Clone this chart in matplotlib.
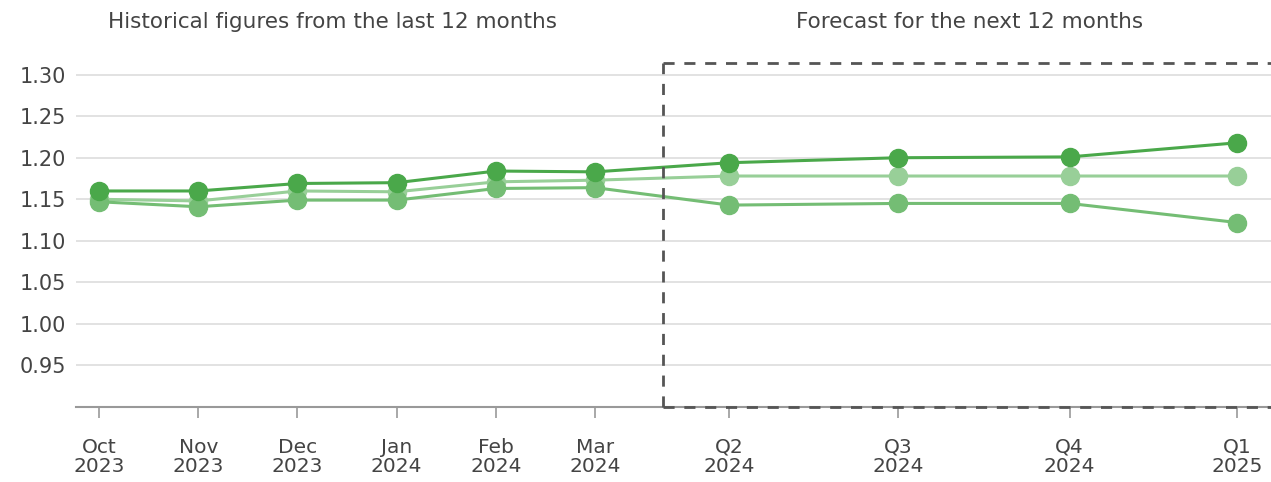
import matplotlib
matplotlib.use("Agg")
import matplotlib.pyplot as plt
from matplotlib.lines import Line2D

# ---- data ----
labels = ["Oct\n2023", "Nov\n2023", "Dec\n2023", "Jan\n2024", "Feb\n2024", "Mar\n2024",
          "Q2\n2024", "Q3\n2024", "Q4\n2024", "Q1\n2025"]
series_high = [1.160, 1.160, 1.169, 1.170, 1.184, 1.183, 1.194, 1.200, 1.201, 1.218]
series_mid  = [1.150, 1.148, 1.160, 1.159, 1.171, 1.173, 1.178, 1.178, 1.178, 1.178]
series_low  = [1.147, 1.141, 1.149, 1.149, 1.163, 1.164, 1.143, 1.145, 1.145, 1.122]
yticks = [0.95, 1.00, 1.05, 1.10, 1.15, 1.20, 1.25, 1.30]
title_hist = "Historical figures from the last 12 months"
title_fc = "Forecast for the next 12 months"

# ---- layout ----
xpos = [0, 1, 2, 3, 4, 5, 6.35, 8.05, 9.78, 11.47]
split_x = 5.685

plt.rcParams['font.family'] = ['DejaVu Sans']
fig = plt.figure(figsize=(12.71, 4.82), dpi=100)
ax = fig.add_axes([76/1271, 1-407/482, 1-76/1271, (407-62.6)/482])
ax.set_xlim(-0.232, 11.81)
ax.set_ylim(0.90, 1.3145)

c_high = "#4aa84a"
c_mid = "#98cf98"
c_low = "#74bd74"

for vals, col, z in [(series_mid, c_mid, 3), (series_low, c_low, 4), (series_high, c_high, 5)]:
    ax.plot(xpos, vals, color=col, lw=2.2, marker='o', ms=13, mec=col, mfc=col, zorder=z, clip_on=False)

ax.set_yticks(yticks)
ax.set_yticklabels([f"{v:.2f}" for v in yticks])
ax.set_xticks(xpos)
ax.set_xticklabels(labels)
ax.grid(axis='y', color='#dddddd', lw=1.2)
ax.set_axisbelow(True)
for s in ['left', 'top', 'right']:
    ax.spines[s].set_visible(False)
ax.spines['bottom'].set_color('#999999')
ax.spines['bottom'].set_linewidth(1.5)
ax.tick_params(axis='y', length=0, pad=7, labelsize=15, labelcolor='#444444')
ax.tick_params(axis='x', length=8, width=1.2, color='#999999', pad=14, labelsize=14.5, labelcolor='#444444')
for t in ax.get_xticklabels():
    t.set_linespacing(1.05)

# dashed forecast box
dash = dict(color='#555555', lw=2, ls=(0, (4, 3.5)), clip_on=False, zorder=6)
ax.add_line(Line2D([split_x, split_x], [0.90, 1.3145], **dash))
ax.add_line(Line2D([split_x, 12.2], [1.3145, 1.3145], **dash))
ax.add_line(Line2D([split_x, 12.2], [0.90, 0.90], **dash))

fig.text(332/1271, 1-22/482, title_hist, ha='center', va='center', fontsize=15.5, color='#444444')
fig.text(970/1271, 1-22/482, title_fc, ha='center', va='center', fontsize=15.5, color='#444444')

fig.savefig("out.png", dpi=100)
